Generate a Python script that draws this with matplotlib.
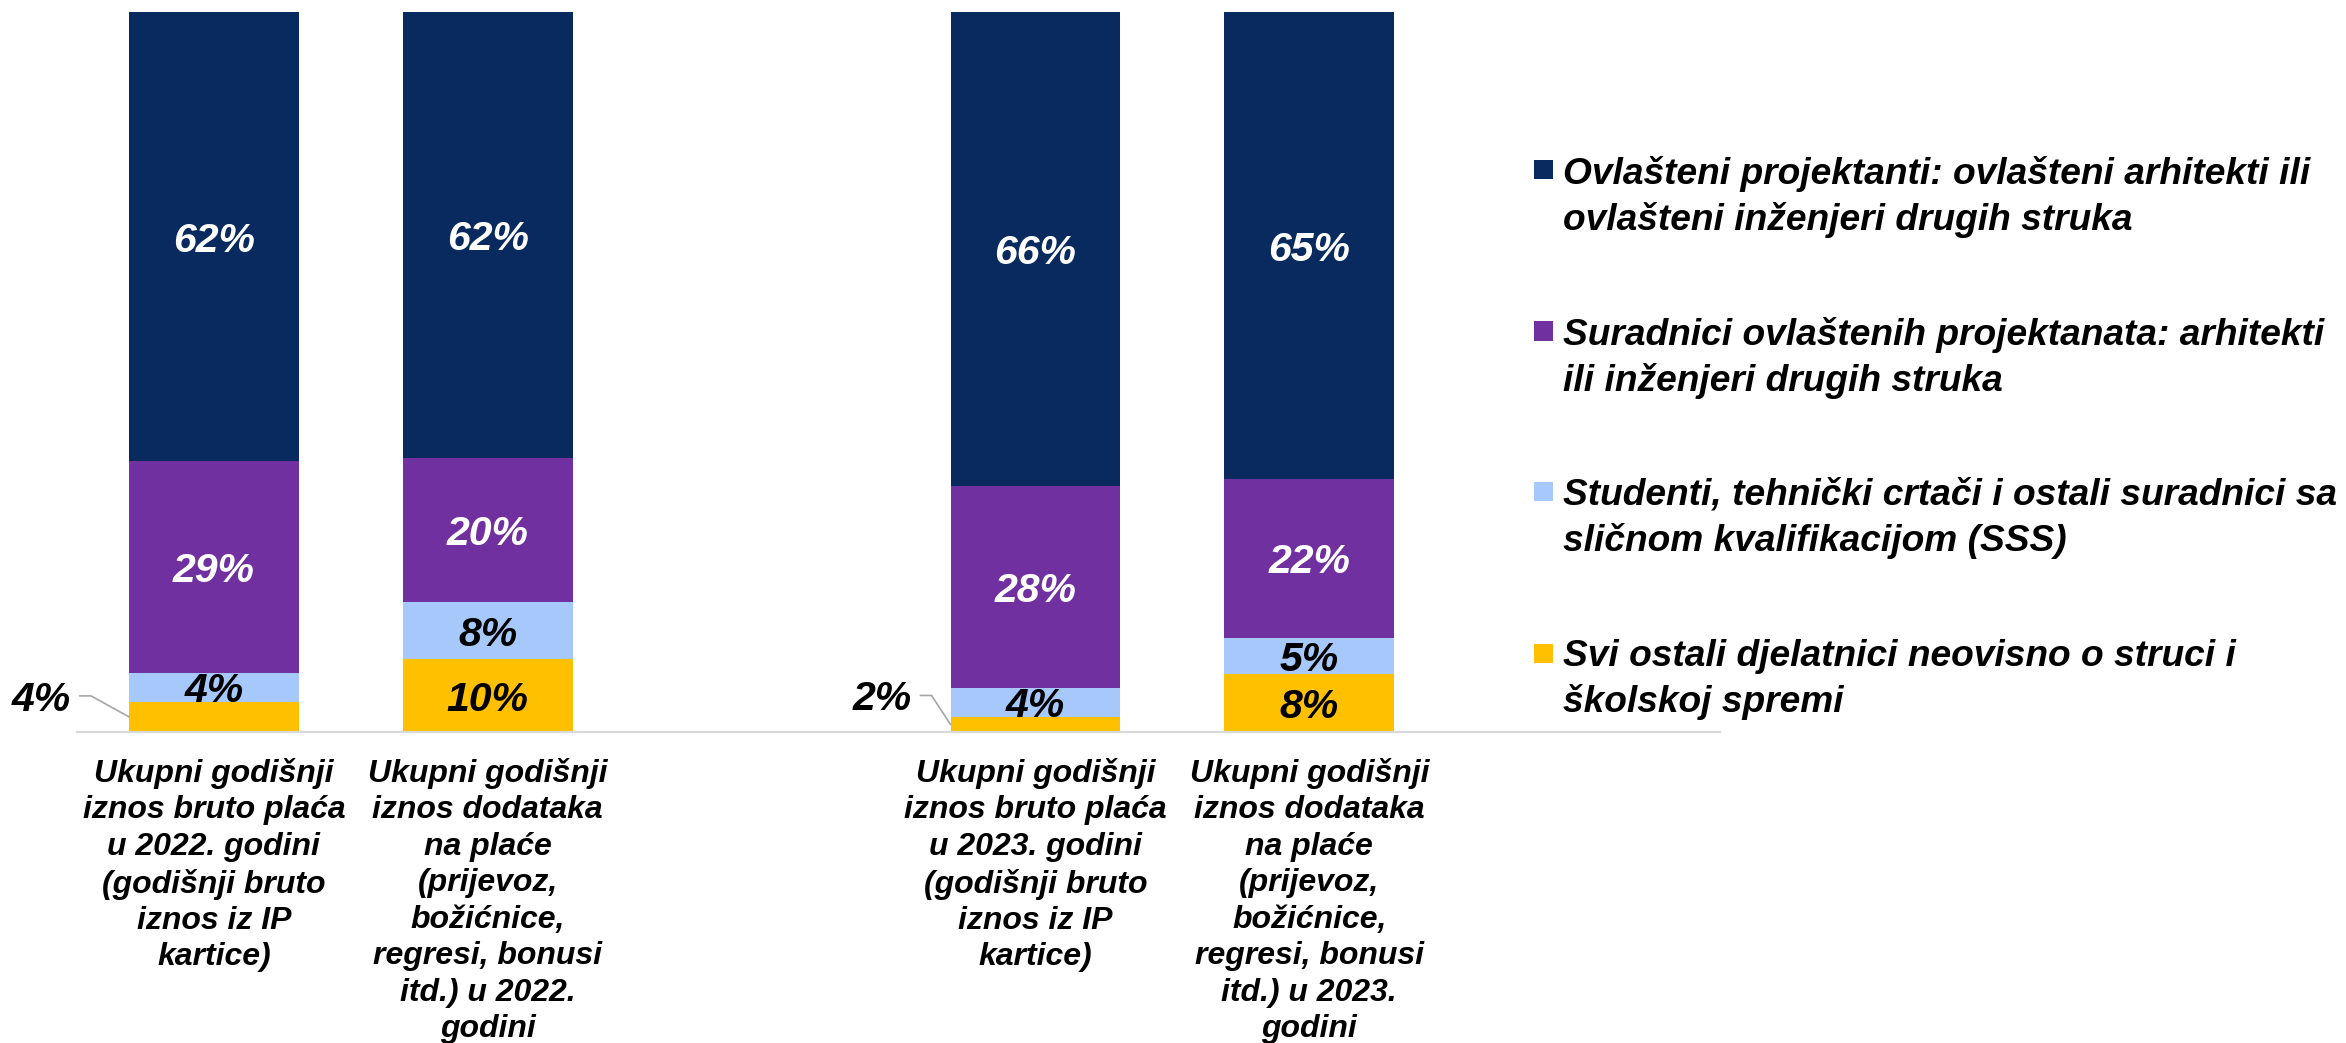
import matplotlib
matplotlib.use("Agg")
import matplotlib.pyplot as plt
from matplotlib.patches import Rectangle
import numpy as np

# ---------------- data ----------------
categories = [
    "Ukupni godišnji\niznos bruto plaća\nu 2022. godini\n(godišnji bruto\niznos iz IP\nkartice)",
    "Ukupni godišnji\niznos dodataka\nna plaće\n(prijevoz,\nbožićnice,\nregresi, bonusi\nitd.) u 2022.\ngodini",
    "Ukupni godišnji\niznos bruto plaća\nu 2023. godini\n(godišnji bruto\niznos iz IP\nkartice)",
    "Ukupni godišnji\niznos dodataka\nna plaće\n(prijevoz,\nbožićnice,\nregresi, bonusi\nitd.) u 2023.\ngodini",
]
series_names = [
    "Svi ostali djelatnici neovisno o struci i\nškolskoj spremi",
    "Studenti, tehnički crtači i ostali suradnici sa\nsličnom kvalifikacijom (SSS)",
    "Suradnici ovlaštenih projektanata: arhitekti\nili inženjeri drugih struka",
    "Ovlašteni projektanti: ovlašteni arhitekti ili\novlašteni inženjeri drugih struka",
]
svi_ostali = [4.2, 10.1, 2.1, 8.1]
studenti = [4.0, 7.9, 4.0, 5.0]
suradnici = [29.4, 20.0, 28.0, 22.0]
ovlasteni = [62.4, 62.0, 65.9, 64.9]
series_values = [svi_ostali, studenti, suradnici, ovlasteni]

# ---------------- style ----------------
colors = ["#FFC000", "#A6C8FA", "#7030A0", "#082A5E"]
text_colors = ["black", "black", "white", "white"]
x_pos = [0, 1, 3, 4]
bar_width = 0.62
FONT = "Liberation Sans"
W, H = 2346, 1043

fig = plt.figure(figsize=(W / 100, H / 100), dpi=100)
ax_left, ax_right, ax_bottom, ax_top = 77, 1720, 732, 12
ax = fig.add_axes([ax_left / W, 1 - ax_bottom / H,
                   (ax_right - ax_left) / W, (ax_bottom - ax_top) / H])
ax.set_xlim(-0.5, 5.5)
ax.set_ylim(0, 100)

bottoms = np.zeros(len(x_pos))
for vals, col in zip(series_values, colors):
    ax.bar(x_pos, vals, bottom=bottoms, width=bar_width, color=col,
           edgecolor="none", zorder=2)
    bottoms += np.array(vals)

for s in ["top", "right", "left"]:
    ax.spines[s].set_visible(False)
ax.spines["bottom"].set_color("#D9D9D9")
ax.spines["bottom"].set_linewidth(1.6)
ax.set_yticks([])
ax.set_xticks([])

# data labels
outside = {(0, 0): (38, 21), (0, 2): (19, 29)}   # (series, bar): leader dx, dy in px


def px_shift(x, y, dxp, dyp):
    X, Y = ax.transData.transform((x, y))
    return ax.transData.inverted().transform((X + dxp, Y + dyp))


bottoms = np.zeros(len(x_pos))
for si, vals in enumerate(series_values):
    for bi, v in enumerate(vals):
        mid = bottoms[bi] + v / 2
        label = f"{int(round(v))}%"
        if (si, bi) in outside:
            dxp, dyp = outside[(si, bi)]
            x0 = x_pos[bi] - bar_width / 2
            elbow = px_shift(x0, mid, -dxp, dyp)
            end = px_shift(x0, mid, -dxp - 11, dyp)
            ax.plot([x0, elbow[0], end[0]], [mid, elbow[1], end[1]],
                    color="#A6A6A6", lw=1.2, zorder=3, clip_on=False)
            tpos = px_shift(end[0], end[1], -9, 0)
            ax.text(tpos[0], tpos[1], label, ha="right", va="center_baseline",
                    fontsize=29.5, fontweight="bold", fontstyle="italic",
                    family=FONT, color="black", zorder=4, clip_on=False)
        else:
            ax.text(x_pos[bi], mid, label, ha="center", va="center_baseline",
                    fontsize=29.5, fontweight="bold", fontstyle="italic",
                    family=FONT, color=text_colors[si], zorder=4)
    bottoms += np.array(vals)

# category labels
for xp, cat in zip(x_pos, categories):
    X, _ = ax.transData.transform((xp, 0))
    fig.text(X / W, 1 - 758 / H, cat, ha="center", va="top",
             multialignment="center", fontsize=23, fontweight="bold",
             fontstyle="italic", family=FONT, color="black", linespacing=1.28)

# legend (top entry = top series)
leg_order = [3, 2, 1, 0]
for k, si in enumerate(leg_order):
    cy = 170 + 161 * k
    fig.patches.append(Rectangle((1534 / W, 1 - (cy + 9.5) / H), 19 / W, 19 / H,
                                 transform=fig.transFigure, facecolor=colors[si],
                                 edgecolor="none"))
    fig.text(1563 / W, 1 - (cy - 14) / H, series_names[si], ha="left",
             va="top", fontsize=26.7, fontweight="bold", fontstyle="italic",
             family=FONT, color="black", linespacing=1.35)

fig.savefig("out.png", dpi=100, facecolor="white")
